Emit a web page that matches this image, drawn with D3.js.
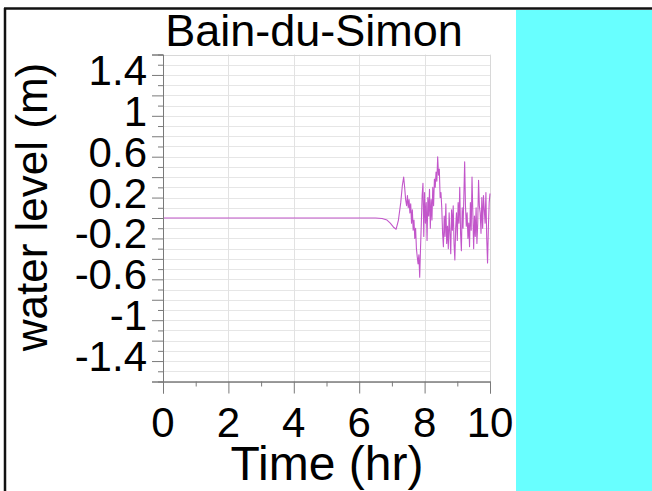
<!DOCTYPE html>
<html>
<head>
<meta charset="utf-8">
<script src="https://cdn.jsdelivr.net/npm/d3@7"></script>
<style>
  html, body { margin: 0; padding: 0; background: #fff; }
  svg { display: block; font-family: "Liberation Sans", Arial, sans-serif; }
</style>
</head>
<body>
<svg id="chart" width="652" height="491"></svg>
<script>
// Water level record
const time = [0, 6.5, 6.7, 6.85, 6.95, 7.05, 7.13, 7.2, 7.27, 7.32, 7.36, 7.39, 7.42,
  7.45, 7.475, 7.5, 7.525, 7.55, 7.575, 7.6, 7.625, 7.65, 7.675, 7.7, 7.725, 7.75, 7.775, 7.8, 7.825, 7.85, 7.875,
  7.9, 7.925, 7.95, 7.975, 8.0, 8.025, 8.05, 8.075, 8.1, 8.125, 8.15, 8.175, 8.2, 8.225, 8.25, 8.275,
  8.3, 8.325, 8.35, 8.375, 8.4, 8.425, 8.45, 8.475, 8.5, 8.525, 8.55, 8.575, 8.6, 8.625, 8.65, 8.675,
  8.7, 8.725, 8.75, 8.775, 8.8, 8.825, 8.85, 8.875, 8.9, 8.925, 8.95, 8.975, 9.0, 9.025, 9.05, 9.075,
  9.1, 9.125, 9.15, 9.175, 9.2, 9.225, 9.25, 9.275, 9.3, 9.325, 9.35, 9.375, 9.4, 9.425, 9.45, 9.475,
  9.5, 9.525, 9.55, 9.575, 9.6, 9.625, 9.65, 9.675, 9.7, 9.725, 9.75, 9.775, 9.8, 9.825, 9.85, 9.875,
  9.9, 9.925, 9.95, 9.975, 10.0];
const level = [0, 0, -0.005, -0.02, -0.05, -0.09, -0.11, -0.02, 0.15, 0.32, 0.40, 0.30, 0.18,
  0.12, 0.22, 0.10, 0.18, 0.05, 0.14, -0.05, 0.08, -0.12, -0.02, -0.20, -0.10, -0.30, -0.38, -0.45, -0.36, -0.58, -0.30,
  -0.05, 0.22, 0.34, -0.18, 0.25, -0.05, 0.15, -0.22, 0.20, 0.02, 0.28, -0.10, 0.18, -0.02, 0.30, 0.12,
  0.38, 0.30, 0.45, 0.36, 0.60, 0.42, 0.48, 0.20, 0.25, 0.10, -0.15, -0.28, 0.02, -0.18, 0.14, -0.25,
  -0.08, -0.30, 0.05, -0.15, -0.35, 0.08, -0.12, 0.12, -0.25, -0.41, -0.10, 0.05, -0.22, 0.15, -0.05, 0.30,
  -0.15, -0.32, 0.10, -0.10, 0.20, 0.55, 0.12, -0.08, 0.05, -0.20, -0.05, -0.28, 0.15, -0.12, 0.40, 0.05,
  -0.30, 0.02, -0.18, 0.10, -0.25, -0.05, 0.37, 0.12, 0.05, -0.15, 0.20, -0.10, 0.22, 0.08, -0.05, 0.25,
  -0.20, -0.44, -0.10, 0.15, 0.24];

const xTicks = [0, 2, 4, 6, 8, 10];
const yTicks = [-1.4, -1, -0.6, -0.2, 0.2, 0.6, 1, 1.4];

const svg = d3.select('#chart');

// cyan panel on the right and the black frame
svg.append('rect').attr('x', 516).attr('y', 10).attr('width', 136).attr('height', 481).attr('fill', '#68ffff');
svg.append('line').attr('x1', 4).attr('x2', 652).attr('y1', 8.5).attr('y2', 8.5)
  .attr('stroke', '#111').attr('stroke-width', 2.5);
svg.append('line').attr('x1', 5).attr('x2', 5).attr('y1', 8).attr('y2', 491)
  .attr('stroke', '#111').attr('stroke-width', 2.5);

const x = d3.scaleLinear().domain([0, 10]).range([163, 490]);
const y = d3.scaleLinear().domain([-1.6, 1.6]).range([381.5, 54.5]);

// grid
const grid = svg.append('g');
grid.selectAll('.hg').data(d3.range(-16, 17).map(i => i / 10)).enter().append('line')
  .attr('x1', x(0)).attr('x2', x(10))
  .attr('y1', d => Math.round(y(d)) + 0.5).attr('y2', d => Math.round(y(d)) + 0.5)
  .attr('stroke', '#e6e6e6').attr('stroke-width', 1);
grid.selectAll('.vg').data(d3.range(0, 11, 2)).enter().append('line')
  .attr('y1', y(-1.6)).attr('y2', y(1.6))
  .attr('x1', d => Math.round(x(d)) + 0.5).attr('x2', d => Math.round(x(d)) + 0.5)
  .attr('stroke', '#e2e2e2').attr('stroke-width', 1);
// top and right frame
svg.append('path')
  .attr('d', `M${x(0)},${Math.round(y(1.6)) + 0.5}H${x(10) + 0.5}V${y(-1.6)}`)
  .attr('fill', 'none').attr('stroke', '#d8d8d8');

// series
const pts = time.map((t, i) => [t, level[i]]);
svg.append('path').datum(pts)
  .attr('fill', 'none').attr('stroke', '#c256ca').attr('stroke-width', 1.1)
  .attr('stroke-linejoin', 'round')
  .attr('d', d3.line().x(d => x(d[0])).y(d => y(d[1])));

// axes
const axisColor = '#7a7a7a';
const yAxis = svg.append('g').attr('transform', `translate(${x(0)},0)`);
yAxis.call(d3.axisLeft(y).tickValues(d3.range(-16, 17, 2).map(i => i / 10)).tickSize(11).tickFormat(''));
yAxis.append('g').call(d3.axisLeft(y).tickValues(d3.range(-15, 16, 2).map(i => i / 10)).tickSize(5).tickFormat(''));
yAxis.selectAll('.domain').attr('stroke', axisColor);
yAxis.selectAll('.tick line').attr('stroke', axisColor);

const xAxis = svg.append('g').attr('transform', `translate(0,${y(-1.6)})`);
xAxis.call(d3.axisBottom(x).tickValues(xTicks).tickSize(12).tickFormat(''));
xAxis.append('g').call(d3.axisBottom(x).tickValues([1, 3, 5, 7, 9]).tickSize(5).tickFormat(''));
xAxis.selectAll('.domain').attr('stroke', axisColor);
xAxis.selectAll('.tick line').attr('stroke', axisColor);

// tick labels (plain hyphen minus, as in the original)
svg.append('g').selectAll('text').data(yTicks).enter().append('text')
  .attr('x', 147).attr('y', d => y(d) + 10)
  .attr('text-anchor', 'end').attr('font-size', 42).attr('fill', '#000')
  .text(d => String(d));
svg.append('g').selectAll('text').data(xTicks).enter().append('text')
  .attr('x', d => x(d)).attr('y', 437)
  .attr('text-anchor', 'middle').attr('font-size', 42).attr('fill', '#000')
  .text(d => String(d));

// titles
svg.append('text').attr('x', 314).attr('y', 46).attr('text-anchor', 'middle')
  .attr('font-size', 45).text('Bain-du-Simon');
svg.append('text').attr('x', 327).attr('y', 480).attr('text-anchor', 'middle')
  .attr('font-size', 48).text('Time (hr)');
svg.append('text').attr('transform', 'translate(47,207) rotate(-90)').attr('text-anchor', 'middle')
  .attr('font-size', 44).text('water level (m)');
</script>
</body>
</html>
